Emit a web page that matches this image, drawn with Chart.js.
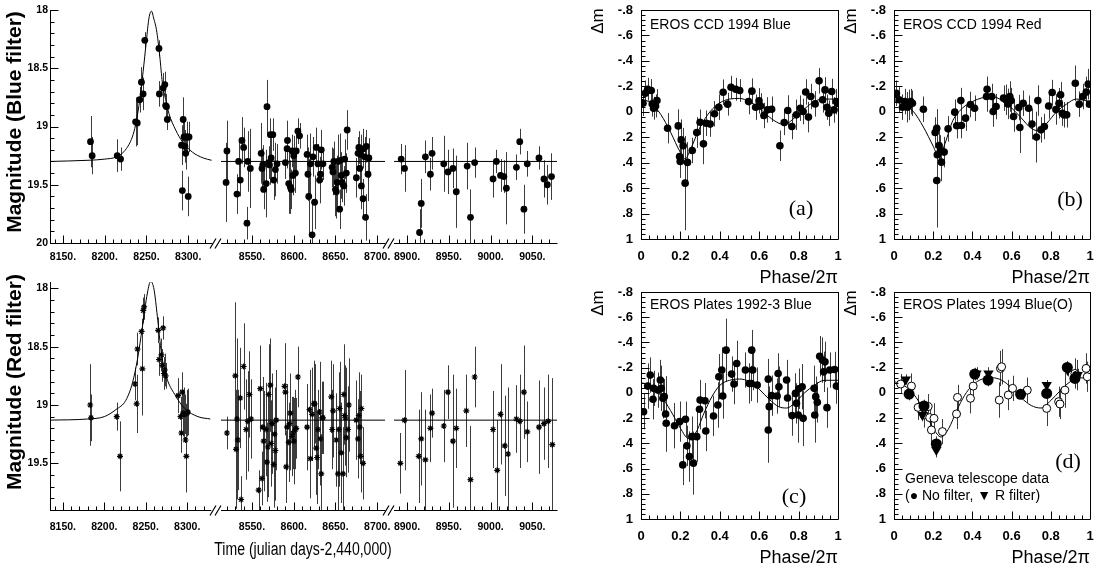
<!DOCTYPE html>
<html>
<head>
<meta charset="utf-8">
<script src="https://cdn.jsdelivr.net/npm/chart.js@4.4.1/dist/chart.umd.min.js"></script>
<style>
  html, body { margin: 0; padding: 0; background: #fff; overflow: hidden; width: 1097px; height: 564px; }
</style>
</head>
<body>
<script>
// ---- light curves: [julian day - 2,440,000, magnitude, error] ----
const blueSeason1 = [
  [8183, 19.13, 0.22], [8185, 19.25, 0.16], [8215, 19.25, 0.14], [8219, 19.28, 0.10], [8237, 18.96, 0.21],
  [8239, 18.97, 0.19], [8242, 18.77, 0.11], [8244, 18.62, 0.13], [8246, 18.72, 0.14], [8248, 18.26, 0.07],
  [8265, 18.33, 0.07], [8265.5, 18.72, 0.11], [8270, 18.67, 0.13], [8272, 18.64, 0.11], [8273, 18.82, 0.10],
  [8274, 18.83, 0.10], [8275, 18.94, 0.09], [8292, 19.16, 0.17], [8294, 18.94, 0.19], [8295, 19.09, 0.16],
  [8296, 19.17, 0.14], [8297, 19.23, 0.14], [8298, 19.09, 0.13], [8299, 19.09, 0.13], [8301, 19.09, 0.13],
  [8293, 19.55, 0.17], [8300, 19.60, 0.17]
];
const blueSeason2 = [
  [8519, 19.48, 0.34], [8520, 19.21, 0.26], [8532, 19.58, 0.17], [8534, 19.30, 0.17], [8536, 19.46, 0.14],
  [8538, 19.12, 0.20], [8540, 19.18, 0.17], [8544, 19.83, 0.14], [8545, 19.30, 0.26], [8548, 19.36, 0.34],
  [8561, 19.23, 0.26], [8562, 19.36, 0.17], [8563, 19.33, 0.17], [8564, 19.54, 0.17], [8567, 19.49, 0.29],
  [8568, 18.83, 0.23], [8570, 19.31, 0.14], [8571, 19.33, 0.17], [8572, 19.07, 0.14], [8573, 19.27, 0.17],
  [8575, 19.07, 0.14], [8576, 19.46, 0.17], [8578, 19.37, 0.23], [8580, 19.32, 0.17], [8590, 19.31, 0.14],
  [8592, 19.19, 0.17], [8592.5, 19.12, 0.17], [8594, 19.49, 0.26], [8596, 19.52, 0.23], [8597, 19.54, 0.17],
  [8598, 19.21, 0.14], [8599, 19.42, 0.17], [8600, 19.25, 0.17], [8602, 19.40, 0.17], [8603, 19.21, 0.17],
  [8605, 19.04, 0.11], [8607, 19.08, 0.11], [8616, 19.24, 0.17], [8617, 19.41, 0.23], [8618, 19.60, 0.32],
  [8620, 19.32, 0.26], [8622, 19.93, 0.29], [8623, 19.26, 0.17], [8625, 19.65, 0.23], [8627, 19.18, 0.17],
  [8629, 19.32, 0.17], [8631, 19.46, 0.20], [8632, 19.41, 0.14], [8633, 19.20, 0.17], [8635, 19.32, 0.14],
  [8646, 19.35, 0.17], [8647, 19.39, 0.20], [8648, 19.30, 0.17], [8650, 19.54, 0.23], [8651, 19.56, 0.23],
  [8652, 19.48, 0.23], [8653, 19.30, 0.23], [8655, 19.71, 0.17], [8656, 19.29, 0.23], [8657, 19.42, 0.20],
  [8658, 19.48, 0.17], [8660, 19.51, 0.17], [8661, 19.28, 0.17], [8663, 19.40, 0.17], [8664, 19.03, 0.17],
  [8675, 19.44, 0.17], [8677, 19.23, 0.14], [8678, 19.18, 0.14], [8679, 19.36, 0.17], [8680, 19.24, 0.17],
  [8681, 19.51, 0.20], [8683, 19.62, 0.17], [8683.5, 19.19, 0.17], [8685, 19.26, 0.17], [8686, 19.78, 0.20],
  [8687, 19.17, 0.14], [8689, 19.41, 0.23], [8690, 19.27, 0.17]
];
const blueSeason3 = [
  [8893, 19.28, 0.13], [8897, 19.36, 0.20], [8915, 19.91, 0.20], [8917, 19.66, 0.21], [8922, 19.26, 0.14],
  [8928, 19.41, 0.14], [8930, 19.23, 0.14], [8944, 19.32, 0.24], [8949, 19.39, 0.19], [8955, 19.36, 0.17],
  [8959, 19.56, 0.31], [8972, 19.34, 0.20], [8976, 19.78, 0.24], [8981, 19.31, 0.13], [9003, 19.45, 0.16],
  [9007, 19.30, 0.10], [9012, 19.42, 0.14], [9016, 19.43, 0.14], [9019, 19.53, 0.31], [9031, 19.35, 0.11],
  [9035, 19.13, 0.11], [9040, 19.71, 0.21], [9044, 19.32, 0.11], [9058, 19.27, 0.10], [9064, 19.45, 0.16],
  [9068, 19.50, 0.17], [9073, 19.43, 0.20]
];
const blueFit = [
  [8134, 19.30], [8180, 19.29], [8200, 19.28], [8214, 19.26], [8226, 19.19], [8234, 19.07], [8238, 18.95],
  [8242, 18.77], [8246, 18.53], [8250, 18.26], [8253, 18.07], [8256, 18.01], [8259, 18.08], [8262, 18.17],
  [8266, 18.40], [8269, 18.62], [8273, 18.77], [8277, 18.89], [8285, 19.03], [8293, 19.13], [8305, 19.22],
  [8318, 19.27], [8328, 19.29]
];
const blueBaseline = 19.30;

const redSeason1 = [
  [8183, 19.00, 0.35], [8184, 19.11, 0.20], [8215, 19.10, 0.12], [8219, 19.44, 0.30], [8237, 18.82, 0.14],
  [8239, 18.99, 0.25], [8240, 18.52, 0.14], [8245, 18.37, 0.11], [8246, 18.69, 0.40], [8247, 18.19, 0.11],
  [8248, 18.16, 0.11], [8265, 18.36, 0.11], [8266, 18.61, 0.14], [8269, 18.57, 0.14], [8270, 18.66, 0.14],
  [8271, 18.34, 0.10], [8272, 18.73, 0.14], [8273, 18.70, 0.14], [8274, 18.75, 0.11], [8289, 18.92, 0.15],
  [8292, 19.10, 0.17], [8293, 19.24, 0.17], [8294, 18.89, 0.17], [8295, 19.07, 0.20], [8296, 19.08, 0.23],
  [8297, 19.08, 0.17], [8298, 19.30, 0.31], [8299, 19.44, 0.31], [8300, 19.07, 0.20], [8301, 19.06, 0.20]
];
const redSeason2 = [
  [8520, 19.24, 0.14], [8530, 18.75, 0.63], [8531, 19.38, 0.51], [8532, 19.12, 0.69], [8533, 19.30, 0.43],
  [8536, 18.94, 0.43], [8537, 19.81, 0.20], [8540, 18.67, 0.37], [8543, 19.21, 0.43], [8545, 19.14, 0.43],
  [8547, 18.91, 0.37], [8549, 19.12, 0.34], [8558, 19.73, 0.17], [8560, 18.86, 0.37], [8562, 19.63, 0.23],
  [8563, 19.19, 0.43], [8564, 19.31, 0.43], [8567, 19.21, 0.40], [8568, 19.49, 0.34], [8569, 19.36, 0.43],
  [8570, 18.91, 0.43], [8572, 18.83, 0.40], [8573, 19.33, 0.37], [8574, 19.16, 0.43], [8576, 19.51, 0.37],
  [8577, 19.25, 0.40], [8578, 19.39, 0.43], [8579, 19.13, 0.43], [8589, 18.84, 0.37], [8590, 18.89, 0.37],
  [8591, 19.53, 0.31], [8592, 19.19, 0.37], [8594, 19.32, 0.34], [8595, 19.16, 0.40], [8596, 19.07, 0.34],
  [8598, 19.27, 0.34], [8599, 19.24, 0.31], [8600, 19.31, 0.37], [8602, 19.21, 0.34], [8603, 19.20, 0.26],
  [8605, 18.76, 0.26], [8616, 19.19, 0.37], [8619, 19.04, 0.34], [8620, 19.46, 0.34], [8622, 19.08, 0.40],
  [8624, 18.99, 0.37], [8625, 18.99, 0.34], [8627, 19.37, 0.40], [8628, 19.45, 0.40], [8629, 19.21, 0.34],
  [8631, 19.06, 0.43], [8632, 19.29, 0.40], [8633, 19.59, 0.34], [8634, 19.11, 0.31], [8635, 19.11, 0.31],
  [8645, 18.93, 0.31], [8646, 19.21, 0.34], [8647, 19.05, 0.40], [8651, 19.30, 0.40], [8653, 19.59, 0.40],
  [8654, 19.21, 0.49], [8655, 19.03, 0.40], [8657, 19.41, 0.43], [8659, 19.59, 0.40], [8660, 18.91, 0.43],
  [8661, 19.09, 0.43], [8662, 19.11, 0.43], [8663, 19.28, 0.34], [8665, 19.21, 0.37], [8666, 19.00, 0.40],
  [8675, 19.13, 0.34], [8677, 19.29, 0.34], [8678, 19.09, 0.37], [8679, 19.19, 0.31], [8680, 19.44, 0.31],
  [8681, 19.03, 0.29], [8683, 19.50, 0.31]
];
const redSeason3 = [
  [8892, 19.50, 0.26], [8897, 19.13, 0.43], [8914, 19.44, 0.40], [8917, 19.29, 0.40], [8922, 19.47, 0.43],
  [8928, 19.20, 0.29], [8930, 19.07, 0.21], [8944, 19.18, 0.31], [8949, 18.89, 0.23], [8955, 19.31, 0.57],
  [8959, 19.20, 0.34], [8971, 19.05, 0.31], [8976, 19.64, 0.46], [8981, 18.76, 0.26], [9003, 19.21, 0.33],
  [9008, 19.56, 0.43], [9012, 19.08, 0.43], [9017, 19.35, 0.43], [9021, 19.42, 0.57], [9031, 19.12, 0.29],
  [9035, 19.14, 0.40], [9040, 18.89, 0.40], [9044, 19.23, 0.26], [9058, 19.19, 0.40], [9064, 19.16, 0.31],
  [9069, 19.14, 0.40], [9074, 19.34, 0.57]
];
const redFit = [
  [8134, 19.13], [8180, 19.12], [8200, 19.10], [8214, 19.04], [8226, 18.96], [8234, 18.81], [8240, 18.61],
  [8246, 18.33], [8252, 18.04], [8256, 17.94], [8260, 18.01], [8264, 18.24], [8269, 18.56], [8275, 18.76],
  [8285, 18.91], [8297, 19.03], [8313, 19.10], [8328, 19.12]
];
const redBaseline = 19.13;

// ---- folded curves: [phase/2pi, delta m, error] ----
const ccdBlue = [
  [0.010, -0.067, 0.10], [0.022, -0.146, 0.10], [0.034, -0.177, 0.09], [0.052, -0.167, 0.09], [0.057, -0.062, 0.10],
  [0.064, -0.028, 0.09], [0.074, -0.046, 0.09], [0.081, -0.088, 0.09], [0.135, 0.129, 0.12], [0.189, 0.111, 0.13],
  [0.196, 0.351, 0.16], [0.199, 0.390, 0.13], [0.204, 0.220, 0.16], [0.214, 0.267, 0.14], [0.224, 0.561, 0.37],
  [0.236, 0.398, 0.16], [0.260, 0.304, 0.10], [0.283, 0.163, 0.12], [0.300, 0.082, 0.10], [0.317, 0.252, 0.16],
  [0.331, 0.090, 0.10], [0.351, 0.097, 0.10], [0.373, 0.016, 0.10], [0.395, -0.036, 0.10], [0.417, -0.154, 0.10],
  [0.440, -0.060, 0.09], [0.457, -0.193, 0.09], [0.481, -0.177, 0.09], [0.501, -0.167, 0.09], [0.546, -0.080, 0.10],
  [0.563, -0.162, 0.10], [0.582, -0.036, 0.10], [0.599, -0.086, 0.10], [0.607, -0.046, 0.10], [0.624, 0.029, 0.10],
  [0.642, -0.015, 0.10], [0.663, -0.020, 0.10], [0.705, 0.267, 0.12], [0.727, 0.084, 0.10], [0.745, -0.010, 0.12],
  [0.766, 0.116, 0.10], [0.789, 0.024, 0.12], [0.809, -0.028, 0.10], [0.823, -0.002, 0.10], [0.836, -0.156, 0.10],
  [0.850, 0.042, 0.12], [0.862, -0.120, 0.10], [0.884, -0.062, 0.10], [0.904, -0.243, 0.10], [0.922, -0.094, 0.10],
  [0.934, -0.172, 0.10], [0.944, -0.036, 0.10], [0.953, 0.011, 0.10], [0.968, -0.159, 0.10], [0.980, -0.015, 0.10],
  [0.992, -0.080, 0.10], [0.998, -0.067, 0.09]
];
const ccdRed = [
  [0.012, -0.146, 0.10], [0.026, -0.094, 0.10], [0.043, -0.036, 0.10], [0.055, -0.080, 0.10], [0.068, -0.036, 0.12],
  [0.078, -0.054, 0.12], [0.085, -0.080, 0.10], [0.094, -0.067, 0.10], [0.150, -0.020, 0.10], [0.210, 0.163, 0.12],
  [0.218, 0.129, 0.15], [0.221, 0.338, 0.15], [0.230, 0.265, 0.15], [0.237, 0.304, 0.12], [0.242, 0.396, 0.15],
  [0.256, 0.317, 0.12], [0.276, 0.134, 0.10], [0.310, 0.003, 0.10], [0.320, 0.110, 0.10], [0.341, -0.088, 0.10],
  [0.344, 0.108, 0.10], [0.365, 0.050, 0.10], [0.390, -0.057, 0.10], [0.411, -0.028, 0.10], [0.472, -0.120, 0.12],
  [0.475, -0.177, 0.10], [0.499, -0.120, 0.10], [0.506, -0.002, 0.12], [0.521, -0.041, 0.10], [0.559, -0.107, 0.10],
  [0.571, -0.094, 0.12], [0.581, -0.062, 0.12], [0.591, -0.120, 0.12], [0.598, -0.088, 0.10], [0.610, 0.037, 0.12],
  [0.637, -0.033, 0.10], [0.642, 0.124, 0.20], [0.659, -0.067, 0.10], [0.687, -0.028, 0.10], [0.704, 0.097, 0.12],
  [0.727, 0.199, 0.20], [0.734, -0.088, 0.12], [0.750, 0.142, 0.10], [0.767, 0.116, 0.10], [0.789, -0.046, 0.10],
  [0.807, -0.151, 0.10], [0.826, -0.018, 0.12], [0.842, -0.067, 0.12], [0.850, -0.133, 0.10], [0.859, 0.011, 0.10],
  [0.867, 0.024, 0.10], [0.881, 0.024, 0.10], [0.925, -0.224, 0.14], [0.945, -0.060, 0.10], [0.963, -0.120, 0.10],
  [0.981, -0.156, 0.12], [0.991, -0.217, 0.12], [0.998, -0.060, 0.10], [0.218, 0.540, 0.37]
];
const plates9293 = [
  [0.013, 0.149, 0.14], [0.034, -0.054, 0.18], [0.047, -0.141, 0.14], [0.061, 0.051, 0.16], [0.064, -0.036, 0.14],
  [0.086, -0.022, 0.14], [0.098, -0.102, 0.16], [0.103, -0.036, 0.18], [0.111, 0.043, 0.16], [0.118, 0.030, 0.14],
  [0.125, 0.167, 0.30], [0.128, 0.241, 0.14], [0.170, 0.260, 0.18], [0.196, 0.228, 0.16], [0.212, 0.571, 0.16],
  [0.226, 0.209, 0.14], [0.233, 0.420, 0.16], [0.246, 0.505, 0.20], [0.258, 0.347, 0.16], [0.266, 0.557, 0.25],
  [0.283, 0.347, 0.20], [0.297, 0.130, 0.16], [0.300, 0.057, 0.16], [0.325, 0.062, 0.14], [0.329, 0.302, 0.16],
  [0.368, 0.183, 0.16], [0.390, 0.096, 0.18], [0.395, -0.128, 0.18], [0.410, -0.181, 0.18], [0.415, 0.025, 0.18],
  [0.432, -0.339, 0.25], [0.460, -0.149, 0.14], [0.472, -0.070, 0.16], [0.486, -0.233, 0.18], [0.530, -0.181, 0.14],
  [0.550, -0.075, 0.16], [0.560, -0.075, 0.14], [0.562, -0.339, 0.16], [0.567, -0.181, 0.16], [0.590, -0.062, 0.14],
  [0.646, -0.109, 0.16], [0.646, 0.294, 0.26], [0.651, 0.109, 0.16], [0.663, 0.022, 0.16], [0.691, 0.025, 0.14],
  [0.696, -0.154, 0.16], [0.700, -0.049, 0.16], [0.739, -0.102, 0.16], [0.744, 0.041, 0.14], [0.767, 0.180, 0.16],
  [0.784, 0.004, 0.16], [0.789, 0.083, 0.16], [0.798, 0.175, 0.22], [0.801, -0.033, 0.16], [0.818, -0.049, 0.18],
  [0.823, 0.202, 0.22], [0.879, -0.036, 0.18], [0.882, 0.175, 0.22], [0.887, 0.030, 0.16], [0.895, 0.075, 0.16],
  [0.907, -0.291, 0.16], [0.921, -0.260, 0.18], [0.927, -0.167, 0.16], [0.934, -0.246, 0.16], [0.944, 0.117, 0.16],
  [0.958, -0.181, 0.14], [0.983, -0.186, 0.14], [0.992, -0.054, 0.14]
];
const plates94 = [
  [0.034, -0.070, 0.08], [0.089, -0.054, 0.10], [0.123, 0.115, 0.10], [0.153, 0.175, 0.10], [0.174, 0.109, 0.10],
  [0.182, 0.196, 0.10], [0.191, 0.294, 0.12], [0.204, 0.202, 0.12], [0.247, 0.307, 0.10], [0.319, 0.167, 0.12],
  [0.324, 0.036, 0.10], [0.390, 0.043, 0.12], [0.404, -0.054, 0.12], [0.537, 0.057, 0.14], [0.543, -0.194, 0.14],
  [0.549, -0.207, 0.14], [0.583, 0.017, 0.12], [0.605, -0.036, 0.10], [0.680, -0.022, 0.10], [0.779, 0.123, 0.14],
  [0.840, 0.070, 0.12], [0.847, 0.088, 0.12], [0.872, -0.022, 0.14], [0.923, -0.154, 0.12], [0.932, -0.141, 0.12],
  [0.980, -0.194, 0.12], [0.986, -0.128, 0.12]
];
const genevaNoFilter = [
  [0.077, 0.009, 0.05], [0.153, 0.104, 0.05], [0.216, 0.405, 0.06], [0.412, -0.149, 0.05], [0.480, -0.102, 0.05],
  [0.646, 0.011, 0.04], [0.779, 0.004, 0.05], [0.884, -0.202, 0.05], [0.923, -0.115, 0.05]
];
const genevaR = [
  [0.060, -0.107, 0.04], [0.145, 0.175, 0.05], [0.216, 0.452, 0.06], [0.421, -0.154, 0.05], [0.482, -0.154, 0.05],
  [0.779, -0.062, 0.04], [0.886, -0.181, 0.05], [0.937, -0.141, 0.05]
];
const fitA = [[0, -0.10], [0.05, -0.07], [0.10, 0.02], [0.15, 0.16], [0.20, 0.32], [0.225, 0.37], [0.25, 0.30], [0.30, 0.12], [0.35, 0.00], [0.40, -0.07], [0.45, -0.10], [0.50, -0.105], [0.55, -0.08], [0.60, -0.03], [0.65, 0.04], [0.70, 0.09], [0.73, 0.10], [0.77, 0.06], [0.82, -0.01], [0.87, -0.07], [0.92, -0.10], [1.0, -0.10]];
const fitB = [[0, -0.08], [0.05, -0.06], [0.10, 0.0], [0.15, 0.12], [0.20, 0.27], [0.23, 0.36], [0.26, 0.25], [0.30, 0.07], [0.35, -0.03], [0.40, -0.08], [0.45, -0.11], [0.50, -0.12], [0.55, -0.09], [0.60, -0.03], [0.65, 0.05], [0.70, 0.13], [0.74, 0.15], [0.78, 0.09], [0.83, 0.0], [0.88, -0.06], [0.93, -0.10], [1.0, -0.08]];
const fitC = [[0, -0.08], [0.05, -0.06], [0.10, 0.02], [0.15, 0.14], [0.20, 0.28], [0.24, 0.36], [0.28, 0.31], [0.32, 0.16], [0.36, 0.03], [0.40, -0.06], [0.45, -0.10], [0.50, -0.11], [0.55, -0.09], [0.60, -0.03], [0.65, 0.05], [0.70, 0.11], [0.74, 0.12], [0.78, 0.08], [0.83, 0.0], [0.88, -0.06], [0.93, -0.10], [1.0, -0.10]];
const fitD = [[0, -0.09], [0.05, -0.06], [0.10, 0.01], [0.15, 0.13], [0.20, 0.28], [0.24, 0.35], [0.28, 0.28], [0.32, 0.14], [0.36, 0.02], [0.40, -0.06], [0.45, -0.11], [0.50, -0.12], [0.55, -0.10], [0.60, -0.04], [0.65, 0.04], [0.70, 0.10], [0.75, 0.12], [0.80, 0.06], [0.85, -0.02], [0.90, -0.09], [0.95, -0.12], [1.0, -0.11]];

// ---- ticks ----
const season1Ticks = [8150, 8200, 8250, 8300];
const season1Labels = ['8150.', '8200.', '8250.', '8300.'];
const season2Ticks = [8550, 8600, 8650, 8700];
const season2Labels = ['8550.', '8600.', '8650.', '8700.'];
const season3Ticks = [8900, 8950, 9000, 9050];
const season3Labels = ['8900.', '8950.', '9000.', '9050.'];
const magTicks = [18, 18.5, 19, 19.5, 20];
const magLabels = ['18', '18.5', '19', '19.5', '20'];
const phaseTicks = [0, 0.2, 0.4, 0.6, 0.8, 1];
const phaseLabels = ['0', '0.2', '0.4', '0.6', '0.8', '1'];
const dmTicks = [-0.8, -0.6, -0.4, -0.2, 0, 0.2, 0.4, 0.6, 0.8, 1];
const dmLabels = ['-.8', '-.6', '-.4', '-.2', '0', '.2', '.4', '.6', '.8', '1'];

const SANS = "'Liberation Sans', Arial, sans-serif";

// axis lines, inward ticks, broken-axis marks
const axesPlugin = {
  id: 'axes',
  afterDatasetsDraw(chart, args, o) {
    if (!o.xMajor) return;
    const { ctx, chartArea: a } = chart;
    const x = chart.scales.x, y = chart.scales.y;
    const L = Math.round(a.left) + 0.5, R = Math.round(a.right) + 0.5;
    const T = Math.round(a.top) + 0.5, B = Math.round(a.bottom) + 0.5;
    const steps = (min, max, step) => {
      const out = [];
      for (let i = Math.ceil(min / step - 1e-6); i * step <= max + 1e-6; i++) out.push(i * step);
      return out;
    };
    const isMajor = (list, v, step) => list.some(m => Math.abs(m - v) < step / 10);
    ctx.save();
    ctx.strokeStyle = '#000';
    ctx.lineWidth = 1;
    ctx.beginPath();
    ctx.moveTo(a.left, B); ctx.lineTo(a.right + 0.5, B);
    if (o.left) { ctx.moveTo(L, a.top); ctx.lineTo(L, a.bottom); }
    if (o.box) {
      ctx.moveTo(a.left, T); ctx.lineTo(a.right + 0.5, T);
      ctx.moveTo(R, a.top); ctx.lineTo(R, a.bottom);
    }
    steps(x.min, x.max, o.xMinor).forEach(v => {
      const px = Math.round(x.getPixelForValue(v)) + 0.5;
      const len = isMajor(o.xMajor, v, o.xMinor) ? o.majorLen : o.minorLen;
      ctx.moveTo(px, B); ctx.lineTo(px, B - len);
    });
    if (o.left) steps(y.min, y.max, o.yMinor).forEach(v => {
      const py = Math.round(y.getPixelForValue(v)) + 0.5;
      const len = isMajor(o.yMajor, v, o.yMinor) ? o.majorLen : o.minorLen;
      ctx.moveTo(L, py); ctx.lineTo(L + len, py);
    });
    ctx.stroke();
    if (o.breakMark) {
      ctx.beginPath();
      ctx.lineWidth = 1.2;
      [-8, -3].forEach(d => {
        ctx.moveTo(a.left + d - 3, B + 5); ctx.lineTo(a.left + d + 3, B - 5);
      });
      ctx.stroke();
    }
    ctx.restore();
  }
};

// vertical error bars from the dataset's err list
const errPlugin = {
  id: 'errbars',
  beforeDatasetsDraw(chart) {
    const { ctx, chartArea: a } = chart;
    const x = chart.scales.x, y = chart.scales.y;
    ctx.save();
    ctx.beginPath();
    ctx.rect(a.left, a.top, a.right - a.left, a.bottom - a.top);
    ctx.clip();
    ctx.strokeStyle = '#3c3c3c';
    ctx.lineWidth = 1;
    chart.data.datasets.forEach(ds => {
      if (!ds.err) return;
      ctx.beginPath();
      ds.data.forEach((p, i) => {
        const px = Math.round(x.getPixelForValue(p.x)) + 0.5;
        ctx.moveTo(px, y.getPixelForValue(p.y - ds.err[i]));
        ctx.lineTo(px, y.getPixelForValue(p.y + ds.err[i]));
      });
      ctx.stroke();
    });
    ctx.restore();
  }
};

// free text placed against the plot frame
const notesPlugin = {
  id: 'notes',
  afterDraw(chart, args, o) {
    if (!o.items) return;
    const { ctx, chartArea: a } = chart;
    o.items.forEach(t => {
      ctx.save();
      ctx.font = t.font;
      ctx.fillStyle = '#000';
      ctx.textAlign = t.align || 'left';
      ctx.textBaseline = 'middle';
      const px = t.fromRight ? a.right - t.dx : (t.fromCenter ? (a.left + a.right) / 2 + t.dx : a.left + t.dx);
      const py = t.fromBottom ? a.bottom - t.dy : a.top + t.dy;
      ctx.translate(px, py);
      if (t.rot) ctx.rotate(t.rot);
      if (t.sx) ctx.scale(t.sx, 1);
      ctx.fillText(t.text, 0, 0);
      ctx.restore();
    });
  }
};

Chart.register(axesPlugin, errPlugin, notesPlugin);

function place(box, config) {
  const cv = document.createElement('canvas');
  cv.width = box[2];
  cv.height = box[3];
  cv.style.cssText = `position:absolute;left:${box[0]}px;top:${box[1]}px;width:${box[2]}px;height:${box[3]}px`;
  document.body.appendChild(cv);
  return new Chart(cv, config);
}

const toXY = rows => rows.map(r => ({ x: r[0], y: r[1] }));

function markSet(rows, style) {
  return Object.assign({ data: toXY(rows), err: rows.map(r => r[2]), showLine: false }, style);
}

function lineSet(rows) {
  return {
    type: 'line', data: toXY(rows), showLine: true, borderColor: '#000', borderWidth: 1,
    pointRadius: 0, fill: false, cubicInterpolationMode: 'monotone'
  };
}

// fixed axis sizes so that all panels line up
function fixWidth(w) {
  return s => { s.width = w; s.paddingTop = 0; s.paddingBottom = 0; s.paddingLeft = 0; s.paddingRight = 0; };
}
function fixHeight(h) {
  return s => { s.height = h; s.paddingTop = 0; s.paddingBottom = 0; s.paddingLeft = 0; s.paddingRight = 0; };
}

function seasonChart(o) {
  const dot = o.star
    ? { pointStyle: 'star', pointRadius: 3, borderColor: '#000', borderWidth: 1.2, backgroundColor: '#000' }
    : { pointStyle: 'circle', pointRadius: 3.4, borderWidth: 0, backgroundColor: '#000' };
  const datasets = [markSet(o.points, dot)];
  if (o.fit) datasets.push(lineSet(o.fit));
  else datasets.push(lineSet([[o.xMin, o.base], [o.xMax, o.base]]));
  const font = { family: SANS, size: 10.5, weight: 'bold' };
  const notes = [];
  if (o.xTitle) notes.push({ text: o.xTitle, dx: 0, dy: -40, fromCenter: true, fromBottom: true, align: 'center', font: '18px ' + SANS, sx: 0.78 });
  if (o.yTitle) notes.push({ text: o.yTitle, dx: -35, dy: o.yTitleAt, rot: -Math.PI / 2, align: 'center', font: 'bold 21px ' + SANS });
  return place(o.box, {
    type: 'scatter',
    data: { datasets },
    options: {
      responsive: false, animation: false, events: [],
      layout: { padding: o.pad },
      plugins: {
        legend: { display: false }, tooltip: { enabled: false },
        axes: { left: !!o.yTitle, xMajor: o.ticks, xMinor: 10, yMajor: magTicks, yMinor: 0.1, majorLen: 8, minorLen: 4, breakMark: !o.yTitle },
        notes: { items: notes }
      },
      scales: {
        x: {
          type: 'linear', min: o.xMin, max: o.xMax,
          grid: { display: false, drawTicks: false }, border: { display: false },
          afterBuildTicks: s => { s.ticks = o.ticks.map(v => ({ value: v })); },
          ticks: { callback: v => o.labels[o.ticks.indexOf(v)], font, color: '#000', padding: o.tickPad, maxRotation: 0, autoSkip: false },
          afterFit: fixHeight(o.xHeight)
        },
        y: {
          type: 'linear', min: o.yMin, max: o.yMax, reverse: true, display: !!o.yTitle,
          grid: { display: false, drawTicks: false }, border: { display: false },
          afterBuildTicks: s => { s.ticks = magTicks.filter(v => v <= o.yMax + 1e-6).map(v => ({ value: v })); },
          ticks: { callback: v => magLabels[magTicks.indexOf(v)], font, color: '#000', padding: 2, autoSkip: false },
          afterFit: fixWidth(o.yTitle ? 50 : 0)
        }
      }
    }
  });
}

function phaseChart(o) {
  return place(o.box, {
    type: 'scatter',
    data: { datasets: o.datasets },
    options: {
      responsive: false, animation: false, events: [],
      layout: { padding: o.pad },
      plugins: {
        legend: { display: false }, tooltip: { enabled: false },
        axes: { left: true, box: true, xMajor: phaseTicks, xMinor: 0.04, yMajor: dmTicks, yMinor: 0.04, majorLen: 8, minorLen: 4 },
        notes: { items: o.notes }
      },
      scales: {
        x: {
          type: 'linear', min: 0, max: 1,
          grid: { display: false, drawTicks: false }, border: { display: false },
          afterBuildTicks: s => { s.ticks = phaseTicks.map(v => ({ value: v })); },
          ticks: { callback: v => phaseLabels[phaseTicks.indexOf(v)], font: { family: SANS, size: 13, weight: 'bold' }, color: '#000', padding: 10, maxRotation: 0, autoSkip: false },
          title: { display: true, text: 'Phase/2π', align: 'end', font: { family: SANS, size: 18 }, color: '#000', padding: 0 },
          afterFit: fixHeight(50)
        },
        y: {
          type: 'linear', min: -0.8, max: 1, reverse: true,
          grid: { display: false, drawTicks: false }, border: { display: false },
          afterBuildTicks: s => { s.ticks = dmTicks.map(v => ({ value: v })); },
          ticks: { callback: v => dmLabels[dmTicks.indexOf(v)], font: { family: SANS, size: 13, weight: 'bold' }, color: '#000', padding: 8, autoSkip: false },
          afterFit: fixWidth(51)
        }
      }
    }
  });
}

// ---- left: light curves with broken time axis ----
const topPad = (l, r) => ({ top: 10, left: l, right: r, bottom: 0 });
const botPad = (l, r) => ({ top: 7, left: l, right: r, bottom: 4 });

seasonChart({ box: [0, 0, 216, 275], pad: topPad(0, 3), xMin: 8134.5, xMax: 8328.5, yMin: 18, yMax: 20,
  ticks: season1Ticks, labels: season1Labels, points: blueSeason1, fit: blueFit,
  yTitle: 'Magnitude (Blue filter)', yTitleAt: 112, xHeight: 32, tickPad: 8 });
seasonChart({ box: [206, 0, 194, 275], pad: topPad(15, 15), xMin: 8512.9, xMax: 8709.3, yMin: 18, yMax: 20,
  ticks: season2Ticks, labels: season2Labels, points: blueSeason2, base: blueBaseline, xHeight: 32, tickPad: 8 });
seasonChart({ box: [380, 0, 192, 275], pad: topPad(14, 15), xMin: 8884.4, xMax: 9079.6, yMin: 18, yMax: 20,
  ticks: season3Ticks, labels: season3Labels, points: blueSeason3, base: blueBaseline, xHeight: 32, tickPad: 8 });

seasonChart({ box: [0, 275, 216, 289], pad: botPad(0, 3), xMin: 8134.5, xMax: 8328.5, yMin: 17.946, yMax: 19.9,
  ticks: season1Ticks, labels: season1Labels, points: redSeason1, fit: redFit, star: true,
  yTitle: 'Magnitude (Red filter)', yTitleAt: 100, xHeight: 50, tickPad: 11 });
seasonChart({ box: [206, 275, 194, 289], pad: botPad(15, 15), xMin: 8512.9, xMax: 8709.3, yMin: 17.946, yMax: 19.9,
  ticks: season2Ticks, labels: season2Labels, points: redSeason2, base: redBaseline, star: true,
  xTitle: 'Time (julian days-2,440,000)', xHeight: 50, tickPad: 11 });
seasonChart({ box: [380, 275, 192, 289], pad: botPad(14, 15), xMin: 8884.4, xMax: 9079.6, yMin: 17.946, yMax: 19.9,
  ticks: season3Ticks, labels: season3Labels, points: redSeason3, base: redBaseline, star: true, xHeight: 50, tickPad: 11 });

// ---- right: folded light curves ----
const bigDot = { pointStyle: 'circle', pointRadius: 3.8, borderWidth: 0, backgroundColor: '#000' };
const titleFont = '14px ' + SANS;
const tagFont = '22px "Liberation Serif", "Times New Roman", serif';
const dmNote = { text: 'Δm', dx: -43, dy: 11, rot: -Math.PI / 2, align: 'center', font: '17px ' + SANS };

phaseChart({ box: [590, 0, 252, 290], pad: { top: 10, right: 4, bottom: 1, left: 0 },
  datasets: [markSet(ccdBlue, bigDot), lineSet(fitA)],
  notes: [{ text: 'EROS CCD 1994 Blue', dx: 9, dy: 15, font: titleFont },
          { text: '(a)', dx: 37, dy: 30, fromRight: true, fromBottom: true, align: 'center', font: tagFont }, dmNote] });
phaseChart({ box: [843, 0, 254, 290], pad: { top: 10, right: 7, bottom: 1, left: 0 },
  datasets: [markSet(ccdRed, bigDot), lineSet(fitB)],
  notes: [{ text: 'EROS CCD 1994 Red', dx: 9, dy: 15, font: titleFont },
          { text: '(b)', dx: 20, dy: 39, fromRight: true, fromBottom: true, align: 'center', font: tagFont }, dmNote] });
phaseChart({ box: [590, 280, 252, 290], pad: { top: 12, right: 4, bottom: 1, left: 0 },
  datasets: [markSet(plates9293, bigDot), lineSet(fitC)],
  notes: [{ text: 'EROS Plates 1992-3 Blue', dx: 9, dy: 13, font: titleFont },
          { text: '(c)', dx: 44, dy: 22, fromRight: true, fromBottom: true, align: 'center', font: tagFont }, dmNote] });
phaseChart({ box: [843, 280, 254, 290], pad: { top: 12, right: 7, bottom: 1, left: 0 },
  datasets: [
    markSet(genevaR, { pointStyle: 'triangle', rotation: 180, pointRadius: 6, borderWidth: 0, backgroundColor: '#000' }),
    markSet(genevaNoFilter, { pointStyle: 'circle', pointRadius: 5.5, borderWidth: 0, backgroundColor: '#000' }),
    markSet(plates94, { pointStyle: 'circle', pointRadius: 4, borderWidth: 1, borderColor: '#000', backgroundColor: '#fff' }),
    lineSet(fitD)
  ],
  notes: [{ text: 'EROS Plates 1994 Blue(O)', dx: 9, dy: 13, font: titleFont },
          { text: '(d)', dx: 22, dy: 57, fromRight: true, fromBottom: true, align: 'center', font: tagFont },
          { text: 'Geneva telescope data', dx: 11, dy: 40, fromBottom: true, font: titleFont },
          { text: '(● No filter, ▼ R filter)', dx: 11, dy: 23, fromBottom: true, font: titleFont }, dmNote] });
</script>
</body>
</html>
